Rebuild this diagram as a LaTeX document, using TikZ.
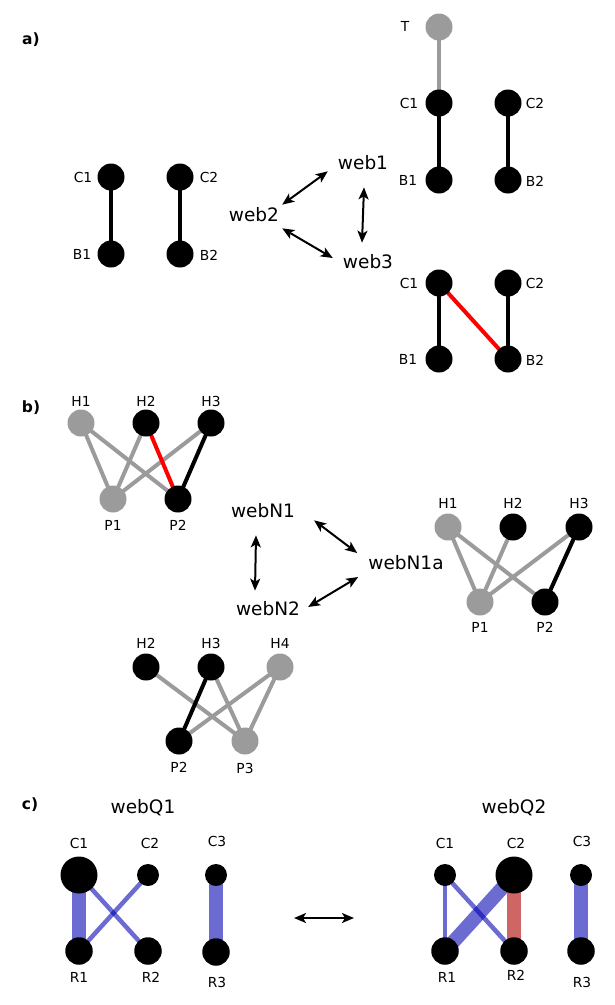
\documentclass[tikz,border=0pt]{standalone}
\usepackage{fontspec}
\setmainfont{DejaVu Sans}
\usetikzlibrary{arrows.meta,calc}
\pgfdeclarelayer{bg}
\pgfsetlayers{bg,main}
\definecolor{grayc}{RGB}{155,155,155}
\definecolor{qblue}{RGB}{0,0,178}
\definecolor{qred}{RGB}{175,0,0}
\begin{document}
\begin{tikzpicture}[x=1pt,y=-1pt,
  nd/.style={circle,fill=black,inner sep=0pt,minimum size=27pt},
  gn/.style={nd,fill=grayc},
  qs/.style={circle,fill=black,inner sep=0pt,minimum size=22pt},
  qm/.style={circle,fill=black,inner sep=0pt,minimum size=27.5pt},
  ql/.style={circle,fill=black,inner sep=0pt,minimum size=37pt},
  lab/.style={inner sep=0pt,font=\fontsize{13.8}{16}\selectfont},
  big/.style={inner sep=0pt,font=\fontsize{18.5}{22}\selectfont},
  pnl/.style={inner sep=0pt,font=\bfseries\fontsize{15.5}{18}\selectfont},
  edb/.style={line width=4pt,black},
  edg/.style={line width=4pt,grayc},
  edr/.style={line width=4pt,red},
  arr/.style={{Stealth[length=12pt,width=10pt,inset=3pt]}-{Stealth[length=12pt,width=10pt,inset=3pt]},line width=2pt},
  qb/.style={draw=qblue,draw opacity=0.58},
  qr/.style={draw=qred,draw opacity=0.6}]
\useasboundingbox (0,0) rectangle (615,1005);

% ---------------- panel a ----------------
\node[pnl] (pa) at (31,40) {a)};
\node[nd] (aC1) at (111,177) {};
\node[nd] (aB1) at (111,254) {};
\node[nd] (aC2) at (180,177) {};
\node[nd] (aB2) at (180,254) {};
\node[lab] (laC1) at (83,177) {C1};
\node[lab] (laB1) at (82,254) {B1};
\node[lab] (laC2) at (209,177) {C2};
\node[lab] (laB2) at (209,255) {B2};
\begin{pgfonlayer}{bg}
\draw[edb] (aC1.center) -- (aB1.center);
\draw[edb] (aC2.center) -- (aB2.center);
\end{pgfonlayer}

\node[big] (web2) at (254,215) {web2};
\node[big] (web1) at (363,163) {web1};
\node[big] (web3) at (368,262) {web3};
\draw[arr] ([xshift=3pt,yshift=3pt]web2.north east) -- ([xshift=-10pt,yshift=-1pt]web1.south west);
\draw[arr] ([xshift=1pt,yshift=-17pt]web1.south) -- ([xshift=-6pt,yshift=12pt]web3.north);
\draw[arr] ([xshift=3pt,yshift=-6pt]web2.south east) -- ([xshift=-10pt,yshift=4pt]web3.west);

% top right
\node[gn] (tT) at (439,27) {};
\node[nd] (tC1) at (439,103) {};
\node[nd] (tB1) at (439,180) {};
\node[nd] (tC2) at (508,103) {};
\node[nd] (tB2) at (508,180) {};
\node[lab] (ltT) at (405,26) {T};
\node[lab] (ltC1) at (409,103) {C1};
\node[lab] (ltB1) at (408,180) {B1};
\node[lab] (ltC2) at (535,103) {C2};
\node[lab] (ltB2) at (535,181) {B2};
\begin{pgfonlayer}{bg}
\draw[edg] (tT.center) -- (tC1.center);
\draw[edb] (tC1.center) -- (tB1.center);
\draw[edb] (tC2.center) -- (tB2.center);
\end{pgfonlayer}

% bottom right
\node[nd] (bC1) at (439,283) {};
\node[nd] (bB1) at (439,359) {};
\node[nd] (bC2) at (508,283) {};
\node[nd] (bB2) at (508,359) {};
\node[lab] (lbC1) at (409,283) {C1};
\node[lab] (lbB1) at (408,359) {B1};
\node[lab] (lbC2) at (535,283) {C2};
\node[lab] (lbB2) at (535,360) {B2};
\begin{pgfonlayer}{bg}
\draw[edb] (bC1.center) -- (bB1.center);
\draw[edb] (bC2.center) -- (bB2.center);
\draw[edr] (bC1.center) -- (bB2.center);
\end{pgfonlayer}

% ---------------- panel b ----------------
\node[pnl] (pb) at (31,408) {b)};
% top left graph
\node[gn] (uH1) at (81,423) {};
\node[nd] (uH2) at (146,423) {};
\node[nd] (uH3) at (211,423) {};
\node[gn] (uP1) at (113,499) {};
\node[nd] (uP2) at (178,499) {};
\node[lab] (luH1) at (81,401) {H1};
\node[lab] (luH2) at (146,401) {H2};
\node[lab] (luH3) at (211,401) {H3};
\node[lab] (luP1) at (113,525) {P1};
\node[lab] (luP2) at (178,525) {P2};
\begin{pgfonlayer}{bg}
\draw[edg] (uH1.center) -- (uP1.center);
\draw[edg] (uH1.center) -- (uP2.center);
\draw[edg] (uH2.center) -- (uP1.center);
\draw[edg] (uH3.center) -- (uP1.center);
\draw[edr] (uH2.center) -- (uP2.center);
\draw[edb] (uH3.center) -- (uP2.center);
\end{pgfonlayer}

\node[big] (webN1) at (263,511) {webN1};
\node[big] (webN1a) at (406,563) {webN1a};
\node[big] (webN2) at (268,609) {webN2};
\draw[arr] ([xshift=19pt,yshift=-2pt]webN1.south east) -- ([xshift=-11pt,yshift=10pt]webN1a.west);
\draw[arr] ([xshift=-7pt,yshift=-17pt]webN1.south) -- ([xshift=-13pt,yshift=11pt]webN2.north);
\draw[arr] ([xshift=8pt,yshift=2pt]webN2.east) -- ([xshift=-10pt,yshift=-14pt]webN1a.west);

% right graph
\node[gn] (rH1) at (448,527) {};
\node[nd] (rH2) at (513,527) {};
\node[nd] (rH3) at (579,527) {};
\node[gn] (rP1) at (480,602) {};
\node[nd] (rP2) at (545,602) {};
\node[lab] (lrH1) at (448,503) {H1};
\node[lab] (lrH2) at (513,503) {H2};
\node[lab] (lrH3) at (579,503) {H3};
\node[lab] (lrP1) at (480,627) {P1};
\node[lab] (lrP2) at (545,627) {P2};
\begin{pgfonlayer}{bg}
\draw[edg] (rH1.center) -- (rP1.center);
\draw[edg] (rH1.center) -- (rP2.center);
\draw[edg] (rH2.center) -- (rP1.center);
\draw[edg] (rH3.center) -- (rP1.center);
\draw[edb] (rH3.center) -- (rP2.center);
\end{pgfonlayer}

% bottom graph
\node[nd] (dH2) at (146,667) {};
\node[nd] (dH3) at (211,667) {};
\node[gn] (dH4) at (280,667) {};
\node[nd] (dP2) at (179,741) {};
\node[gn] (dP3) at (245,741) {};
\node[lab] (ldH2) at (146,643) {H2};
\node[lab] (ldH3) at (211,643) {H3};
\node[lab] (ldH4) at (280,643) {H4};
\node[lab] (ldP2) at (179,767) {P2};
\node[lab] (ldP3) at (245,768) {P3};
\begin{pgfonlayer}{bg}
\draw[edg] (dH2.center) -- (dP3.center);
\draw[edg] (dH3.center) -- (dP3.center);
\draw[edg] (dH4.center) -- (dP2.center);
\draw[edg] (dH4.center) -- (dP3.center);
\draw[edb] (dH3.center) -- (dP2.center);
\end{pgfonlayer}

% ---------------- panel c ----------------
\node[pnl] (pc) at (30,805) {c)};
\node[big] (webQ1) at (143,808) {webQ1};
\node[big] (webQ2) at (514,808) {webQ2};

% left graph
\node[ql] (lC1) at (79,875) {};
\node[qs] (lC2) at (148,875) {};
\node[qs] (lC3) at (216,875) {};
\node[qm] (lR1) at (79,951) {};
\node[qm] (lR2) at (148,951) {};
\node[qm] (lR3) at (216,952) {};
\node[lab] (llC1) at (79,843) {C1};
\node[lab] (llC2) at (150,843) {C2};
\node[lab] (llC3) at (217,841) {C3};
\node[lab] (llR1) at (79,977) {R1};
\node[lab] (llR2) at (151,977) {R2};
\node[lab] (llR3) at (217,982) {R3};
\begin{pgfonlayer}{bg}
\draw[qb,line width=14pt] (lC1.center) -- (lR1.center);
\draw[qb,line width=4.5pt] (lC1.center) -- (lR2.center);
\draw[qb,line width=4.5pt] (lC2.center) -- (lR1.center);
\draw[qb,line width=14pt] (lC3.center) -- (lR3.center);
\end{pgfonlayer}

\coordinate (qa) at (294,918);
\coordinate (qz) at (354,918);
\draw[arr] (qa) -- (qz);

% right graph
\node[qs] (mC1) at (445,875) {};
\node[ql] (mC2) at (514,875) {};
\node[qs] (mC3) at (581,875) {};
\node[qm] (mR1) at (445,951) {};
\node[qm] (mR2) at (514,951) {};
\node[qm] (mR3) at (581,951) {};
\node[lab] (lmC1) at (445,843) {C1};
\node[lab] (lmC2) at (516,843) {C2};
\node[lab] (lmC3) at (582,841) {C3};
\node[lab] (lmR1) at (447,977) {R1};
\node[lab] (lmR2) at (516,975) {R2};
\node[lab] (lmR3) at (582,982) {R3};
\begin{pgfonlayer}{bg}
\draw[qb,line width=4pt] (mC1.center) -- (mR1.center);
\draw[qb,line width=4.5pt] (mC1.center) -- (mR2.center);
\draw[qb,line width=14pt] (mC2.center) -- (mR1.center);
\draw[qr,line width=14pt] (mC2.center) -- (mR2.center);
\draw[qb,line width=14pt] (mC3.center) -- (mR3.center);
\end{pgfonlayer}
\end{tikzpicture}
\end{document}
